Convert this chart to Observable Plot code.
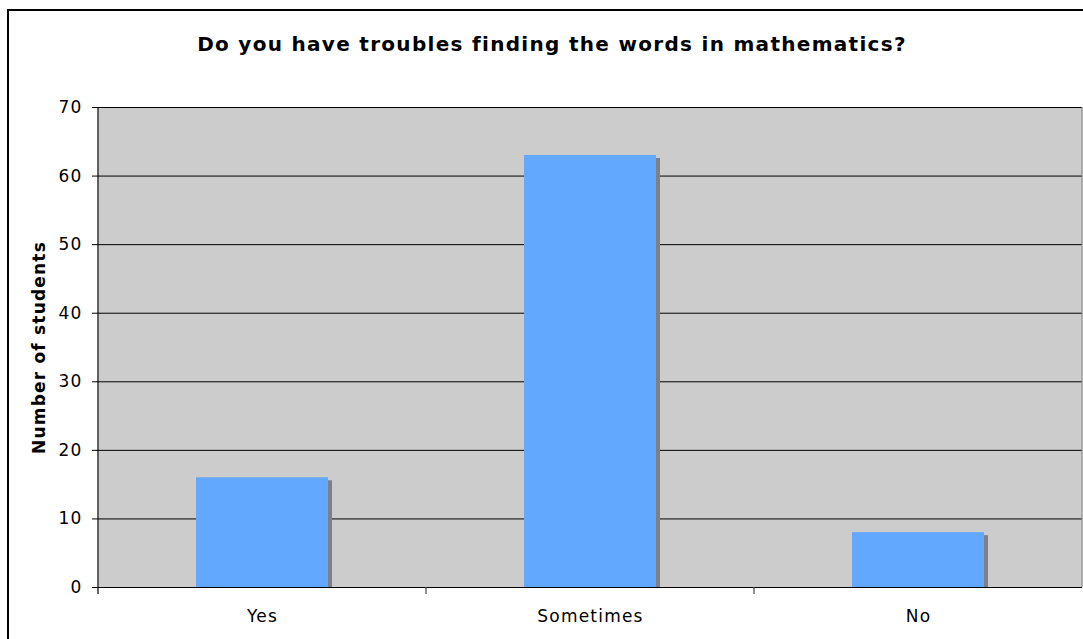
<!DOCTYPE html>
<html>
<head>
<meta charset="utf-8">
<script src="https://cdn.jsdelivr.net/npm/d3@7"></script>
<script src="https://cdn.jsdelivr.net/npm/@observablehq/plot@0.6"></script>
<style>
  html, body { margin: 0; padding: 0; background: #fff; overflow: hidden; }
  #wrap { position: relative; width: 1083px; height: 639px; overflow: hidden; font-family: "DejaVu Sans", Verdana, sans-serif; }
  #border { position: absolute; left: 7px; top: 9px; width: 1100px; height: 700px; border: 2px solid #000; box-sizing: border-box; }
  #title { position: absolute; left: 0; top: 32px; width: 1104px; text-align: center; font-weight: bold; font-size: 20px; letter-spacing: 1.3px; color: #000; }
  #chart { position: absolute; left: 0; top: 0; }
  #chart svg text { letter-spacing: 1.2px; }
</style>
</head>
<body>
<div id="wrap">
  <div id="border"></div>
  <div id="title">Do you have troubles finding the words in mathematics?</div>
  <div id="chart"></div>
</div>
<script>
const categories = ["Yes", "Sometimes", "No"];
const values = [16, 63, 8];
const yTicks = [0, 10, 20, 30, 40, 50, 60, 70];
const gridTicks = [10, 20, 30, 40, 50, 60, 70];
const yLabel = "Number of students";

const data = categories.map((c, i) => ({category: c, value: values[i]}));

function bandTicks(index, scales, values, dims) {
  const x = scales.x, y = scales.y;
  const g = d3.create("svg:g");
  const dom = x.domain ? x.domain() : categories;
  const step = x(dom[1]) - x(dom[0]);
  const pos = dom.map(c => x(c));
  pos.push(x(dom[dom.length - 1]) + step);
  const y0 = y(0);
  g.append("line").attr("x1", pos[0]).attr("x2", pos[0])
    .attr("y1", y(70)).attr("y2", y0 + 7).attr("stroke", "#000").attr("stroke-width", 1.2);
  for (const p of pos.slice(1, -1)) {
    g.append("line").attr("x1", p).attr("x2", p)
      .attr("y1", y0).attr("y2", y0 + 7).attr("stroke", "#444").attr("stroke-width", 1.2);
  }
  const pr = pos[pos.length - 1];
  g.append("line").attr("x1", pr).attr("x2", pr)
    .attr("y1", y(70)).attr("y2", y0).attr("stroke", "#808080").attr("stroke-width", 1);
  return g.node();
}

const chart = Plot.plot({
  width: 1083,
  height: 639,
  marginLeft: 98,
  marginRight: 1,
  marginTop: 107,
  marginBottom: 52,
  style: {fontFamily: "\"DejaVu Sans\", Verdana, sans-serif", fontSize: "15px", color: "#000", background: "transparent"},
  x: {domain: categories, padding: 0, label: null},
  y: {domain: [0, 70], label: null},
  marks: [
    Plot.frame({fill: "#cccccc", stroke: null}),
    Plot.ruleY(gridTicks, {stroke: "#000", strokeWidth: 1}),
    Plot.barY(data, {x: "category", y: "value", fill: "#808080", insetLeft: 98, insetRight: 98, dx: 4, dy: 3, clip: true}),
    Plot.barY(data, {x: "category", y: "value", fill: "#62a8ff", insetLeft: 98, insetRight: 98}),
    Plot.ruleY([0], {stroke: "#000", strokeWidth: 1.2}),
    Plot.axisY({ticks: yTicks, tickSize: 6, tickPadding: 10, tickFormat: d => d, label: null, fontSize: 17}),
    Plot.axisX({tickSize: 0, tickPadding: 22, label: null, fontSize: 17}),
    Plot.text([yLabel], {frameAnchor: "left", dx: -59, rotate: -90, textAnchor: "middle", fontWeight: "bold", fontSize: 17, text: d => d}),
    bandTicks
  ]
});
document.getElementById("chart").appendChild(chart);
</script>
</body>
</html>
